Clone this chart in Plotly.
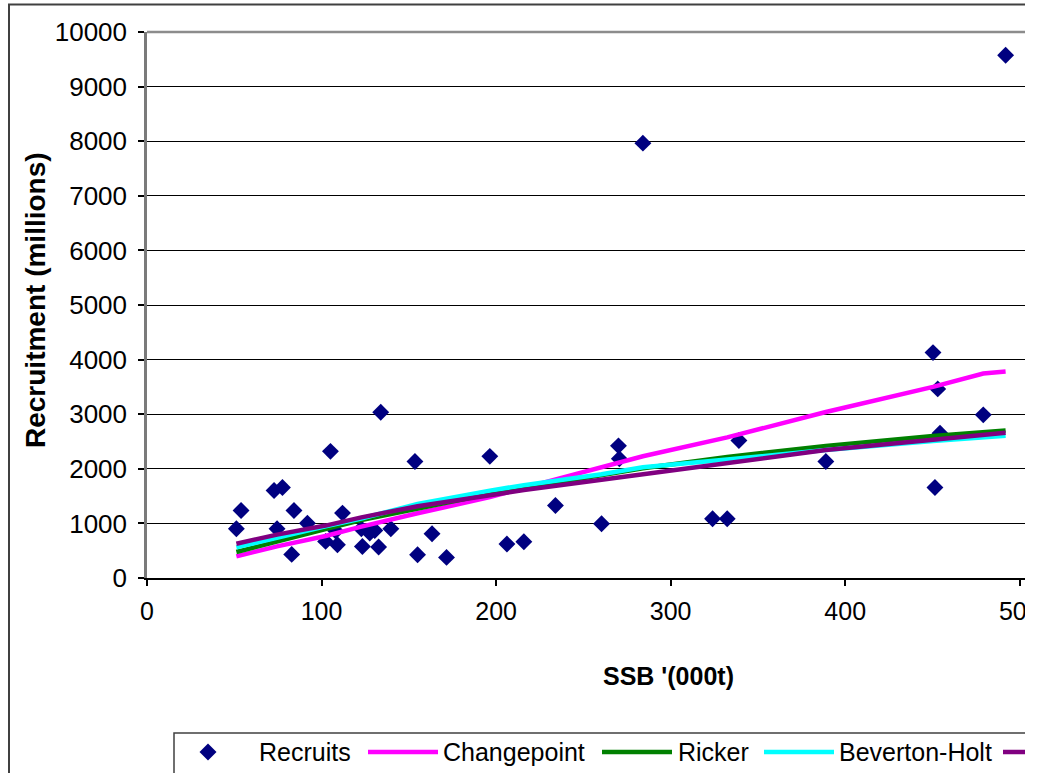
import plotly.graph_objects as go

# Spawning stock biomass ('000 t) and observed recruitment (millions)
ssb = [51.2, 53.9, 72.8, 74.5, 77.6, 82.9, 84.2, 91.9, 102.3, 105.1,
       108.1, 109.1, 112.0, 122.8, 123.4, 127.6, 130.5, 132.7, 133.9, 139.7,
       153.5, 155.0, 163.3, 171.6, 196.4, 206.2, 215.9, 234.0, 260.4, 270.1,
       270.6, 284.1, 324.0, 332.4, 339.1, 388.9, 450.3, 451.4, 453.0, 454.3,
       479.1, 491.9]
recruits = [902, 1237, 1603, 902, 1658, 432, 1237, 1003, 670, 2320,
            862, 609, 1189, 902, 578, 823, 871, 567, 3035, 902,
            2134, 426, 810, 377, 2228, 622, 664, 1328, 993, 2420,
            2183, 7964, 1085, 1085, 2518, 2134, 4128, 1658, 3463, 2653,
            2988, 9574]

# Fitted stock-recruit curves evaluated along the SSB range
fit_ssb = [51.2, 74.5, 102.3, 122.8, 155.0, 196.4, 215.9, 260.4, 284.1,
           332.4, 388.9, 450.3, 479.1, 491.9]
changepoint = [395, 580, 770, 940, 1185, 1480, 1650, 2040, 2230,
               2575, 3040, 3500, 3745, 3780]
ricker = [476, 675, 895, 1060, 1275, 1540, 1650, 1890, 2010,
          2215, 2420, 2600, 2670, 2700]
bev_holt = [560, 740, 945, 1090, 1355, 1600, 1700, 1900, 2030,
            2170, 2345, 2510, 2580, 2605]
fifth_fit = [628, 795, 960, 1110, 1315, 1520, 1610, 1800, 1900,
             2105, 2345, 2530, 2630, 2660]

x_ticks = [0, 100, 200, 300, 400, 500]
y_ticks = [0, 1000, 2000, 3000, 4000, 5000, 6000, 7000, 8000, 9000, 10000]

FONT = "Liberation Sans, Arial, sans-serif"
NAVY = "#000080"
# (legend label, values, colour); the last label runs off the right edge
curves = [
    ("Changepoint", changepoint, "#FF00FF"),
    ("Ricker", ricker, "#008000"),
    ("Beverton-Holt", bev_holt, "#00FFFF"),
    (None, fifth_fit, "#800080"),
]

# figure geometry (pixels)
FIG_W, FIG_H = 1025, 773
L, R_EDGE, TOP, BOT = 147, 1025, 32, 578
PW, PH = R_EDGE - L, BOT - TOP


def px(xp):
    return (xp - L) / PW


def py(yp):
    return (BOT - yp) / PH


fig = go.Figure()
fig.add_trace(go.Scatter(
    x=ssb, y=recruits, mode="markers", name="Recruits",
    marker=dict(symbol="diamond", size=13, color=NAVY, line=dict(width=0)),
    showlegend=False, cliponaxis=False,
))
for name, vals, col in curves:
    fig.add_trace(go.Scatter(
        x=fit_ssb, y=vals, mode="lines", name=name or "fit",
        line=dict(color=col, width=4.5), showlegend=False,
    ))

shapes = []
annotations = []

# outer chart frame
shapes.append(dict(type="rect", xref="paper", yref="paper",
                   x0=px(9), x1=px(1200), y0=py(4.5), y1=py(900),
                   line=dict(color="#404040", width=2), layer="below"))
# plot-area top border
shapes.append(dict(type="line", xref="paper", yref="paper",
                   x0=0, x1=1, y0=1, y1=1,
                   line=dict(color="#8c8c8c", width=2.5), layer="above"))

# legend box along the bottom
LEG_Y = 752
shapes.append(dict(type="rect", xref="paper", yref="paper",
                   x0=px(174), x1=px(1200), y0=py(733), y1=py(900),
                   line=dict(color="#404040", width=1.5)))
d = 8.5
cx = 208
shapes.append(dict(type="path", xref="paper", yref="paper",
                   path=f"M {px(cx)} {py(LEG_Y - d)} L {px(cx + d)} {py(LEG_Y)} "
                        f"L {px(cx)} {py(LEG_Y + d)} L {px(cx - d)} {py(LEG_Y)} Z",
                   fillcolor=NAVY, line=dict(width=0)))
annotations.append(dict(text="Recruits", xref="paper", yref="paper",
                        x=px(257), y=py(LEG_Y), xanchor="left", yanchor="middle",
                        showarrow=False, font=dict(family=FONT, size=25, color="black")))
legend_slots = [(368, 441), (602, 676), (764, 837), (1003, None)]
for (name, _vals, col), (x0, tx) in zip(curves, legend_slots):
    shapes.append(dict(type="line", xref="paper", yref="paper",
                       x0=px(x0), x1=px(x0 + 70), y0=py(LEG_Y), y1=py(LEG_Y),
                       line=dict(color=col, width=4.5)))
    if name and tx is not None:
        annotations.append(dict(text=name, xref="paper", yref="paper",
                                x=px(tx), y=py(LEG_Y), xanchor="left",
                                yanchor="middle", showarrow=False,
                                font=dict(family=FONT, size=25, color="black")))

# axis titles
annotations.append(dict(text="<b>SSB '(000t)</b>", xref="paper", yref="paper",
                        x=px(668), y=py(676), xanchor="center", yanchor="middle",
                        showarrow=False, font=dict(family=FONT, size=25, color="black")))
annotations.append(dict(text="<b>Recruitment (millions)</b>", xref="paper", yref="paper",
                        x=px(35), y=py(300), xanchor="center", yanchor="middle",
                        textangle=-90, showarrow=False,
                        font=dict(family=FONT, size=28, color="black")))

fig.update_layout(
    width=FIG_W, height=FIG_H,
    margin=dict(l=L, r=FIG_W - R_EDGE, t=TOP, b=FIG_H - BOT, autoexpand=False),
    paper_bgcolor="white", plot_bgcolor="white",
    font=dict(family=FONT, size=25, color="black"),
    shapes=shapes, annotations=annotations,
    xaxis=dict(range=[0, 503], tickvals=x_ticks,
               ticktext=[str(v) for v in x_ticks], ticks="outside", ticklen=6,
               tickcolor="black", tickwidth=1.5, showgrid=False, zeroline=False,
               showline=True, linecolor="black", linewidth=2,
               ticklabelstandoff=4, ticklabeloverflow="allow",
               tickfont=dict(family=FONT, size=25, color="black")),
    yaxis=dict(range=[0, 10000], tickvals=y_ticks,
               ticktext=[str(v) for v in y_ticks], ticks="outside", ticklen=6,
               tickcolor="black", tickwidth=1.5, showgrid=True, gridcolor="black",
               gridwidth=1, zeroline=False, showline=True, linecolor="#7a7a7a",
               linewidth=2.5, ticklabelstandoff=6, ticklabeloverflow="allow",
               tickfont=dict(family=FONT, size=26, color="black")),
)

fig.write_html("out.html")
